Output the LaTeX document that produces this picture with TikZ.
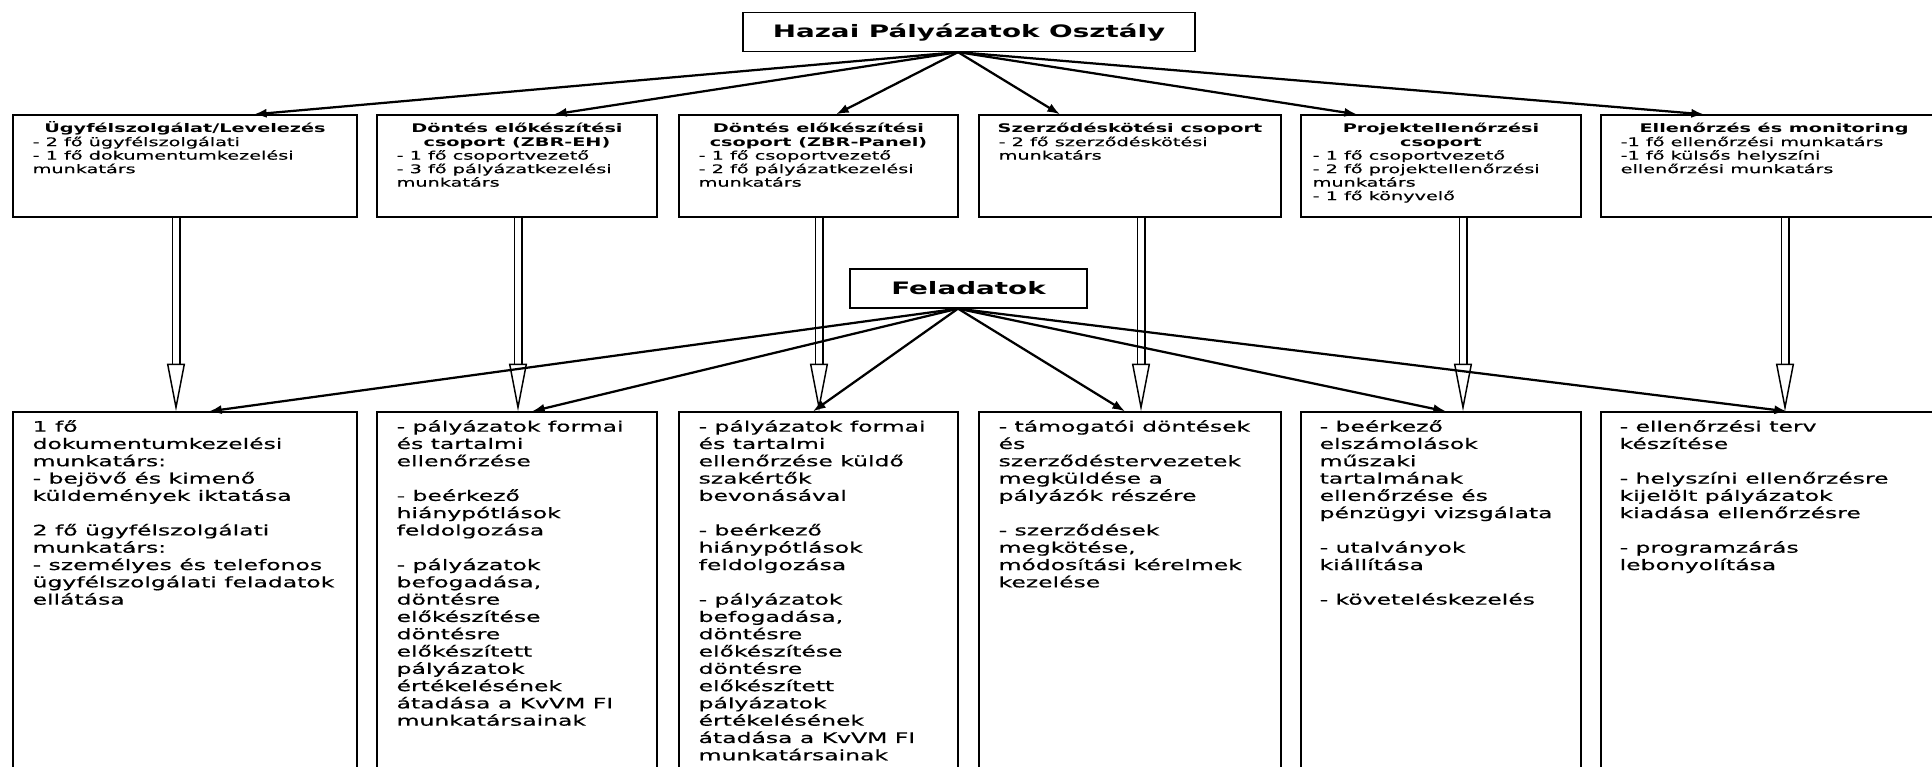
\documentclass[tikz,border=0pt]{standalone}
\usepackage{fontspec}
\setmainfont{DejaVu Sans}[FakeStretch=1.62, UprightFeatures={FakeBold=0.6}]
\usetikzlibrary{arrows.meta}
\newlength\pxl
\setlength\pxl{0.025cm}
\newcommand\headf{\fontsize{12.2}{14}\selectfont\bfseries}
\newcommand\topf{\fontsize{8.45}{9.6}\selectfont}
\newcommand\botf{\fontsize{10.3}{12.3}\selectfont}
\begin{document}
\begin{tikzpicture}[
        x=0.025cm, y=-0.025cm,
        >={Latex[length=9pt,width=6.5pt]},
        box/.style={draw, line width=0.9pt, inner sep=0pt},
        head/.style={box, minimum height=39\pxl, font=\headf},
        ttl/.style={anchor=north, align=center, inner sep=0pt, font=\topf\bfseries},
        lst/.style={anchor=north west, align=left, inner sep=0pt, font=\topf},
        tsk/.style={anchor=north west, align=left, inner sep=0pt, font=\botf},
        link/.style={->, line width=1.6pt},
        hollow/.style={double, double distance=4.3pt, line width=1.05pt,
            -{Triangle[open, length=34pt, width=12.8pt, line width=1.05pt]}}
    ]
    \useasboundingbox (0,0) rectangle (1932,767);

    % heads
    \node[head, minimum width=452\pxl] (hazai) at (969,32) {Hazai Pályázatok Osztály};
    \node[head, minimum width=237\pxl] (felad) at (968.5,288.5) {Feladatok};

    % groups
    \node[box, minimum width=344\pxl, minimum height=102\pxl] (t1) at (185,166) {};
    \node[box, minimum width=280\pxl, minimum height=102\pxl] (t2) at (517,166) {};
    \node[box, minimum width=279\pxl, minimum height=102\pxl] (t3) at (818.5,166) {};
    \node[box, minimum width=302\pxl, minimum height=102\pxl] (t4) at (1130,166) {};
    \node[box, minimum width=280\pxl, minimum height=102\pxl] (t5) at (1441,166) {};
    \node[box, minimum width=346\pxl, minimum height=102\pxl] (t6) at (1774,166) {};

    \node[ttl] (t1h) at (t1.north) {\rule{0pt}{18\pxl}Ügyfélszolgálat/Levelezés};
    \node[ttl] (t2h) at (t2.north) {\rule{0pt}{18\pxl}Döntés előkészítési\\csoport (ZBR-EH)};
    \node[ttl] (t3h) at (t3.north) {\rule{0pt}{18\pxl}Döntés előkészítési\\csoport (ZBR-Panel)};
    \node[ttl] (t4h) at (t4.north) {\rule{0pt}{18\pxl}Szerződéskötési csoport};
    \node[ttl] (t5h) at (t5.north) {\rule{0pt}{18\pxl}Projektellenőrzési\\csoport};
    \node[ttl] (t6h) at (t6.north) {\rule{0pt}{18\pxl}Ellenőrzés és monitoring};

    \node[lst] (t1b) at ([xshift=20\pxl]t1.north west) {\rule{0pt}{31.5\pxl}- 2 fő ügyfélszolgálati\\- 1 fő dokumentumkezelési\\munkatárs};
    \node[lst] (t2b) at ([xshift=20\pxl]t2.north west) {\rule{0pt}{45\pxl}- 1 fő csoportvezető\\- 3 fő pályázatkezelési\\munkatárs};
    \node[lst] (t3b) at ([xshift=20\pxl]t3.north west) {\rule{0pt}{45\pxl}- 1 fő csoportvezető\\- 2 fő pályázatkezelési\\munkatárs};
    \node[lst] (t4b) at ([xshift=20\pxl]t4.north west) {\rule{0pt}{31.5\pxl}- 2 fő szerződéskötési\\munkatárs};
    \node[lst] (t5b) at ([xshift=12\pxl]t5.north west) {\rule{0pt}{45\pxl}- 1 fő csoportvezető\\- 2 fő projektellenőrzési\\munkatárs\\- 1 fő könyvelő};
    \node[lst] (t6b) at ([xshift=20\pxl]t6.north west) {\rule{0pt}{31.5\pxl}-1 fő ellenőrzési munkatárs\\-1 fő külsős helyszíni\\ellenőrzési munkatárs};

    % tasks
    \node[box, minimum width=344\pxl, minimum height=388\pxl] (b1) at (185,606) {};
    \node[box, minimum width=280\pxl, minimum height=388\pxl] (b2) at (517,606) {};
    \node[box, minimum width=279\pxl, minimum height=388\pxl] (b3) at (818.5,606) {};
    \node[box, minimum width=302\pxl, minimum height=388\pxl] (b4) at (1130,606) {};
    \node[box, minimum width=280\pxl, minimum height=388\pxl] (b5) at (1441,606) {};
    \node[box, minimum width=346\pxl, minimum height=388\pxl] (b6) at (1774,606) {};

    \node[tsk] (b1x) at ([xshift=20\pxl]b1.north west) {\rule{0pt}{20\pxl}1 fő\\dokumentumkezelési\\munkatárs:\\- bejövő és kimenő\\küldemények iktatása\\[12.3pt]2 fő ügyfélszolgálati\\munkatárs:\\- személyes és telefonos\\ügyfélszolgálati feladatok\\ellátása};
    \node[tsk] (b2x) at ([xshift=20\pxl]b2.north west) {\rule{0pt}{20\pxl}- pályázatok formai\\és tartalmi\\ellenőrzése\\[12.3pt]- beérkező\\hiánypótlások\\feldolgozása\\[12.3pt]- pályázatok\\befogadása,\\döntésre\\előkészítése\\döntésre\\előkészített\\pályázatok\\értékelésének\\átadása a KvVM FI\\munkatársainak};
    \node[tsk] (b3x) at ([xshift=20\pxl]b3.north west) {\rule{0pt}{20\pxl}- pályázatok formai\\és tartalmi\\ellenőrzése küldő\\szakértők\\bevonásával\\[12.3pt]- beérkező\\hiánypótlások\\feldolgozása\\[12.3pt]- pályázatok\\befogadása,\\döntésre\\előkészítése\\döntésre\\előkészített\\pályázatok\\értékelésének\\átadása a KvVM FI\\munkatársainak};
    \node[tsk] (b4x) at ([xshift=20\pxl]b4.north west) {\rule{0pt}{20\pxl}- támogatói döntések\\és\\szerződéstervezetek\\megküldése a\\pályázók részére\\[12.3pt]- szerződések\\megkötése,\\módosítási kérelmek\\kezelése};
    \node[tsk] (b5x) at ([xshift=19\pxl]b5.north west) {\rule{0pt}{20\pxl}- beérkező\\elszámolások\\műszaki\\tartalmának\\ellenőrzése és\\pénzügyi vizsgálata\\[12.3pt]- utalványok\\kiállítása\\[12.3pt]- követeléskezelés};
    \node[tsk] (b6x) at ([xshift=19\pxl]b6.north west) {\rule{0pt}{20\pxl}- ellenőrzési terv\\készítése\\[12.3pt]- helyszíni ellenőrzésre\\kijelölt pályázatok\\kiadása ellenőrzésre\\[12.3pt]- programzárás\\lebonyolítása};

    % group -> tasks
    \foreach \n/\dx in {1/-9, 2/1, 3/0.5, 4/11, 5/22, 6/11}
        \draw[hollow] ([xshift=\dx\pxl]t\n.south) -- ([xshift=\dx\pxl]b\n.north);

    % heads -> boxes
    \coordinate (hs) at ([xshift=-11\pxl]hazai.south);
    \foreach \n/\dx in {1/69, 2/37, 3/17.5, 4/-70, 5/-84, 6/-70}
        \draw[link] (hs) -- ([xshift=\dx\pxl]t\n.north);
    \coordinate (fs) at ([xshift=-10.5\pxl]felad.south);
    \foreach \n/\dx in {1/24, 2/15, 3/-5.5, 4/-5, 5/5, 6/13}
        \draw[link] (fs) -- ([xshift=\dx\pxl]b\n.north);
\end{tikzpicture}
\end{document}
